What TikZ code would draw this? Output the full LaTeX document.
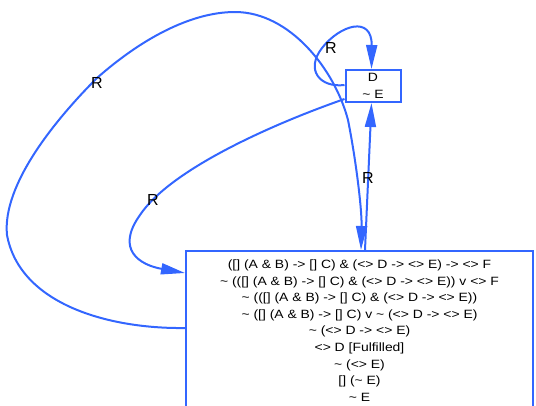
\documentclass[tikz,border=0pt]{standalone}
\usepackage{fontspec}
\setmainfont{Liberation Sans}
\newfontfamily\boxfont[FakeStretch=1.16]{Liberation Sans}
\usetikzlibrary{arrows.meta,calc}
\definecolor{eblue}{RGB}{51,102,255}
\begin{document}
\begin{tikzpicture}[x=1pt,y=-1pt,
  box/.style={draw=eblue,line width=2pt,rectangle,inner sep=0pt,align=center,
    font=\boxfont\fontsize{12}{16.6}\selectfont},
  edge/.style={draw=eblue,line width=2pt,-{Triangle[length=24pt,width=11pt]}},
  lbl/.style={font=\fontsize{16}{16}\selectfont,inner sep=0pt}]
\useasboundingbox (0,0) rectangle (536,405);
\clip (0,0) rectangle (536,405);
\node[box,minimum width=347pt,minimum height=159pt] (big) at (359.5,330.5)
 {([] (A \& B) -> [] C) \& (<> D -> <> E) -> <> F\\
  \textasciitilde{} (([] (A \& B) -> [] C) \& (<> D -> <> E)) v <> F\\
  \textasciitilde{} (([] (A \& B) -> [] C) \& (<> D -> <> E))\\
  \textasciitilde{} ([] (A \& B) -> [] C) v \textasciitilde{} (<> D -> <> E)\\
  \textasciitilde{} (<> D -> <> E)\\
  <> D [Fulfilled]\\
  \textasciitilde{} (<> E)\\
  {}[] (\textasciitilde{} E)\\
  \textasciitilde{} E};
\node[box,minimum width=55pt,minimum height=32pt] (d) at (373,86)
 {D\\\textasciitilde{} E};
\coordinate (bL1) at ($(big.north west)+(0,78)$);
\coordinate (bL2) at ($(big.north west)+(0,23)$);
\coordinate (bT1) at ($(big.north west)+(176,0)$);
\coordinate (bT2) at ($(big.north west)+(180,0)$);
\coordinate (dL1) at ($(d.north west)+(0,16)$);
\coordinate (dL2) at ($(d.south west)+(0,-4)$);
\coordinate (dT) at ($(d.north west)+(27,0)$);
\coordinate (dB) at ($(d.south west)+(27,0)$);
% big loop
\draw[edge] (bL1) .. controls (110,329) and (20,305) .. (7,235)
  .. controls (2,185) and (55,120) .. (97,78)
  .. controls (140,40) and (190,12) .. (235,12)
  .. controls (290,12) and (335,70) .. (348,120)
  .. controls (356,160) and (362,210) .. (bT1);
% self loop
\draw[edge] (dL1) .. controls (320,88) and (305,70) .. (322,48)
  .. controls (340,25) and (372,15) .. (dT);
% D -> big
\draw[edge] (dL2) .. controls (270,125) and (170,170) .. (140,215)
  .. controls (115,250) and (140,265) .. (bL2);
% big -> D
\draw[edge] (bT2) -- (dB);
\node[lbl] (r1) at (97,83) {R};
\node[lbl] (r2) at (153,200) {R};
\node[lbl] (r3) at (331,48) {R};
\node[lbl] (r4) at (368,178) {R};
\end{tikzpicture}
\end{document}
